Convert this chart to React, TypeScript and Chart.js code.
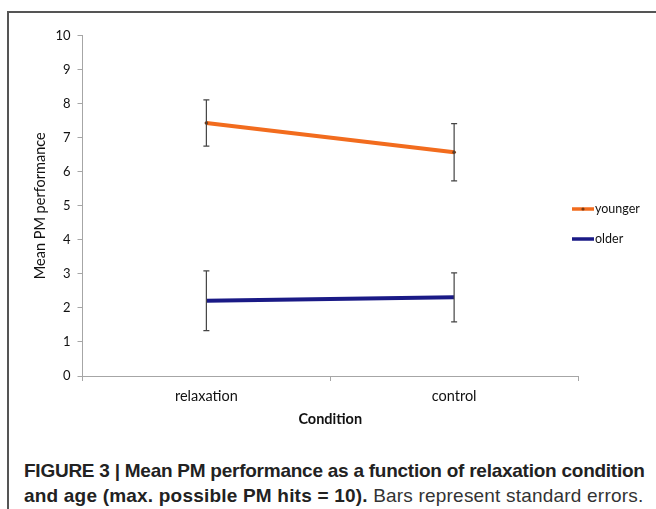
import React, { useEffect, useRef } from "react";
import { Chart, registerables } from "chart.js";

Chart.register(...registerables);

const categories = ["relaxation", "control"];
const seriesNames = ["younger", "older"];
const youngerMeans = [7.43, 6.57];
const youngerErrors = [0.68, 0.84];
const olderMeans = [2.21, 2.31];
const olderErrors = [0.88, 0.72];
const yTicks = [0, 1, 2, 3, 4, 5, 6, 7, 8, 9, 10];

const FONT = "Lato, 'Open Sans', sans-serif";

const errorBarPlugin = {
  id: "errorBars",
  afterDatasetsDraw(chart: any) {
    const ctx = chart.ctx;
    const y = chart.scales.y;
    ctx.save();
    ctx.strokeStyle = "#444";
    ctx.lineWidth = 1.2;
    chart.data.datasets.forEach((ds: any, di: number) => {
      const meta = chart.getDatasetMeta(di);
      meta.data.forEach((pt: any, i: number) => {
        const v = ds.data[i];
        const e = ds.errors[i];
        const x = pt.x;
        const yt = y.getPixelForValue(v + e);
        const yb = y.getPixelForValue(v - e);
        ctx.beginPath();
        ctx.moveTo(x, yt);
        ctx.lineTo(x, yb);
        ctx.moveTo(x - 3, yt);
        ctx.lineTo(x + 3, yt);
        ctx.moveTo(x - 3, yb);
        ctx.lineTo(x + 3, yb);
        ctx.stroke();
      });
    });
    ctx.restore();
  },
};

const legendPlugin = {
  id: "sideLegend",
  afterDraw(chart: any) {
    const ctx = chart.ctx;
    const area = chart.chartArea;
    const x0 = area.right - 6;
    const yStart = area.top + 173.5;
    ctx.save();
    chart.data.datasets.forEach((ds: any, i: number) => {
      const yy = yStart + i * 30;
      ctx.strokeStyle = ds.borderColor;
      ctx.lineWidth = 3.5;
      ctx.beginPath();
      ctx.moveTo(x0, yy);
      ctx.lineTo(x0 + 22, yy);
      ctx.stroke();
      if (ds.pointRadius > 0) {
        ctx.fillStyle = ds.pointBackgroundColor;
        ctx.beginPath();
        ctx.arc(x0 + 11, yy, 1.6, 0, Math.PI * 2);
        ctx.fill();
      }
      ctx.fillStyle = "#111";
      ctx.font = `12.5px ${FONT}`;
      ctx.textBaseline = "middle";
      ctx.textAlign = "left";
      ctx.fillText(ds.label, x0 + 23, yy);
    });
    ctx.restore();
  },
};

export default function App() {
  const ref = useRef<HTMLCanvasElement | null>(null);

  useEffect(() => {
    if (!ref.current) return;
    const chart = new Chart(ref.current, {
      type: "line",
      data: {
        labels: categories,
        datasets: [
          {
            label: seriesNames[0],
            data: youngerMeans,
            errors: youngerErrors,
            borderColor: "#F26C1E",
            borderWidth: 4,
            pointRadius: 1.8,
            pointBackgroundColor: "#7a3a10",
            pointBorderWidth: 0,
            fill: false,
            tension: 0,
          } as any,
          {
            label: seriesNames[1],
            data: olderMeans,
            errors: olderErrors,
            borderColor: "#1A1A86",
            borderWidth: 4,
            pointRadius: 0,
            pointBackgroundColor: "#1A1A86",
            fill: false,
            tension: 0,
          } as any,
        ],
      },
      options: {
        animation: false,
        responsive: false,
        maintainAspectRatio: false,
        layout: { padding: { left: 32, top: 35.5, right: 78, bottom: 5 } },
        plugins: {
          legend: { display: false },
          tooltip: { enabled: false },
        },
        scales: {
          x: {
            type: "category",
            offset: true,
            afterFit: (s: any) => {
              s.height = 55;
            },
            grid: {
              offset: true,
              drawOnChartArea: false,
              drawTicks: true,
              tickLength: 5,
              color: "#A6A6A6",
            },
            border: { color: "#A6A6A6", width: 1 },
            ticks: {
              color: "#111",
              padding: 7,
              font: { family: FONT, size: 14.5 },
            },
            title: {
              display: true,
              text: "Condition",
              color: "#111",
              font: { family: FONT, size: 14.5, weight: "bold" },
              padding: { top: 0, bottom: 3 },
            },
          },
          y: {
            min: 0,
            max: 10,
            afterFit: (s: any) => {
              s.width = 50.5;
            },
            afterBuildTicks: (s: any) => {
              s.ticks = yTicks.map((v) => ({ value: v }));
            },
            grid: {
              drawOnChartArea: false,
              drawTicks: true,
              tickLength: 5,
              color: "#A6A6A6",
            },
            border: { color: "#A6A6A6", width: 1 },
            ticks: {
              color: "#111",
              padding: 7,
              font: { family: FONT, size: 13 },
            },
            title: {
              display: true,
              text: "Mean PM performance",
              color: "#111",
              font: { family: FONT, size: 14.5 },
              padding: { top: 0, bottom: 0 },
            },
          },
        },
      },
      plugins: [errorBarPlugin, legendPlugin],
    });
    return () => chart.destroy();
  }, []);

  return (
    <div
      style={{
        position: "absolute",
        left: 0,
        top: 0,
        width: 656,
        height: 509,
        overflow: "hidden",
        background: "#fff",
      }}
    >
      <div
        style={{
          position: "absolute",
          left: 7,
          top: 11,
          width: 720,
          height: 600,
          borderLeft: "2px solid #555",
          borderTop: "2px solid #555",
        }}
      />
      <canvas
        ref={ref}
        width={656}
        height={436}
        style={{ position: "absolute", left: 0, top: 0, width: 656, height: 436 }}
      />
      <div
        style={{
          position: "absolute",
          left: 24,
          top: 458,
          width: 640,
          fontFamily: "'Liberation Sans', Arial, sans-serif",
          fontSize: 19,
          lineHeight: "25px",
          color: "#222",
          whiteSpace: "nowrap",
        }}
      >
        <div style={{ fontWeight: "bold", letterSpacing: "-0.25px" }}>
          FIGURE 3 | Mean PM performance as a function of relaxation condition
        </div>
        <div style={{ letterSpacing: "0.2px" }}>
          <span style={{ fontWeight: "bold" }}>
            and age (max. possible PM hits = 10).
          </span>{" "}
          <span style={{ color: "#333" }}>Bars represent standard errors.</span>
        </div>
      </div>
    </div>
  );
}
